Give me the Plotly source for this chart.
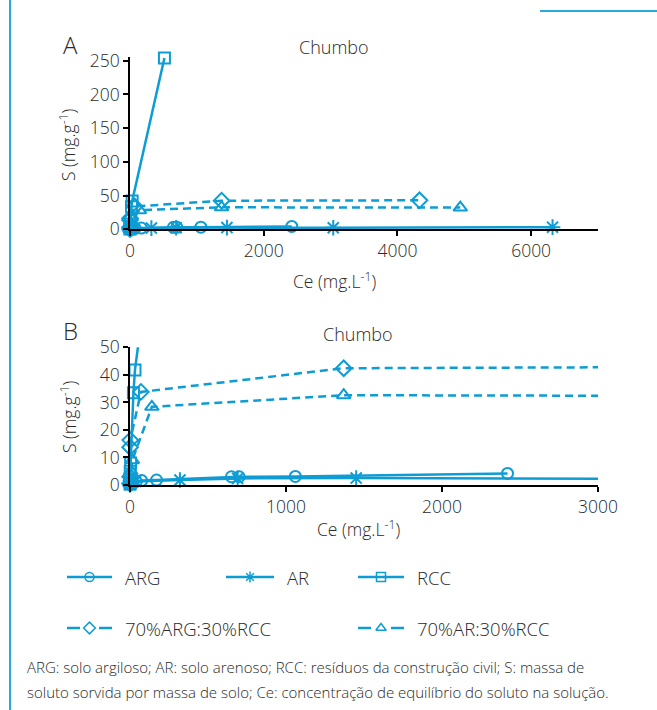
import plotly.graph_objects as go

W, H = 657, 710
COLOR = '#0e9cd4'
FONT = 'Open Sans'
TXT = '#2a2a2a'

# ---- data ----
ARG_ce = [0.5, 3, 15, 40, 75, 170, 650, 700, 1060, 2420]
ARG_s = [0.1, 0.4, 0.9, 1.3, 1.6, 1.8, 3.0, 3.0, 3.1, 4.2]

AR_ce = [0.3, 2, 10, 35, 320, 690, 1450, 3040, 6320]
AR_s = [0.1, 0.4, 0.8, 1.3, 1.8, 2.4, 2.5, 2.3, 3.2]

RCC_ce = [0.2, 0.6, 1.5, 4, 22, 32, 515]
RCC_s = [0.4, 2, 5, 8, 33.5, 41.8, 254]

MIX_ARG_ce = [0.2, 0.8, 0.5, 2, 70, 1370, 4330]
MIX_ARG_s = [0.5, 3, 13.7, 16.3, 33.8, 42.4, 43.0]

MIX_AR_ce = [0.3, 1.5, 5, 15, 140, 1370, 4940]
MIX_AR_s = [0.5, 2.5, 5, 9, 28.4, 32.6, 32.2]

A_xticks = [0, 2000, 4000, 6000]
A_yticks = [0, 50, 100, 150, 200, 250]
B_xticks = [0, 1000, 2000, 3000]
B_yticks = [0, 10, 20, 30, 40, 50]

series = [
    ('ARG', ARG_ce, ARG_s, 'circle-open', 'solid', 11),
    ('AR', AR_ce, AR_s, 'asterisk-open', 'solid', 13),
    ('RCC', RCC_ce, RCC_s, 'square-open', 'solid', 11),
    ('70%ARG:30%RCC', MIX_ARG_ce, MIX_ARG_s, 'diamond-open', '8px,5px', 12),
    ('70%AR:30%RCC', MIX_AR_ce, MIX_AR_s, 'triangle-up-open', '8px,5px', 12),
]

fig = go.Figure()
for xa, ya in (('x', 'y'), ('x2', 'y2')):
    for name, ce, s, sym, dash, msize in series:
        fig.add_trace(go.Scatter(
            x=ce, y=s, mode='lines+markers', name=name, xaxis=xa, yaxis=ya,
            line=dict(color=COLOR, width=2.5, dash=dash),
            marker=dict(symbol=sym, size=msize, color=COLOR, line=dict(color=COLOR, width=2)),
            cliponaxis=False, showlegend=False, hoverinfo='skip'))

# ---- custom legend on an overlay pixel axis ----
leg_rows = [
    ('ARG', 'circle-open', 'solid', 67, 112, 577),
    ('AR', 'asterisk-open', 'solid', 226, 274, 577),
    ('RCC', 'square-open', 'solid', 358, 404, 577),
    ('70%ARG:30%RCC', 'diamond-open', 'dash', 67, 112, 628),
    ('70%AR:30%RCC', 'triangle-up-open', 'dash', 358, 404, 628),
]
annotations = []
for name, sym, style, x0, x1, yy in leg_rows:
    xm = (x0 + x1) / 2
    if style == 'solid':
        lx, ly = [x0, x1], [yy, yy]
    else:
        lx, ly = [x0, x0 + 13, None, x1 - 13, x1], [yy, yy, None, yy, yy]
    fig.add_trace(go.Scatter(x=lx, y=ly, mode='lines', xaxis='x3', yaxis='y3',
                             line=dict(color=COLOR, width=2.5), showlegend=False,
                             hoverinfo='skip', connectgaps=False))
    fig.add_trace(go.Scatter(x=[xm], y=[yy], mode='markers', xaxis='x3', yaxis='y3',
                             marker=dict(symbol=sym, size=9, color=COLOR,
                                         line=dict(color=COLOR, width=1.5)),
                             showlegend=False, hoverinfo='skip'))
    annotations.append(dict(x=x1 + 11, y=yy, xref='x3', yref='y3', text=name,
                            showarrow=False, xanchor='left', yanchor='middle',
                            font=dict(family=FONT, size=18.5, color=TXT, weight=300)))

def px(x):
    return x / W

def py(y):
    return 1 - y / H

axis_common = dict(showline=True, linecolor='black', linewidth=1.5, ticks='outside',
                   ticklen=5, tickwidth=1.5, tickcolor='black', showgrid=False,
                   zeroline=False,
                   tickfont=dict(family=FONT, size=17.5, color=TXT, weight=300))

fig.update_layout(
    width=W, height=H, margin=dict(l=0, r=0, t=0, b=0, autoexpand=False),
    paper_bgcolor='white', plot_bgcolor='rgba(0,0,0,0)',
    xaxis=dict(domain=[px(130), px(598)], range=[0, 7000], tickvals=A_xticks,
               anchor='y', **axis_common),
    yaxis=dict(domain=[py(229.3), py(57.3)], range=[0, 255], tickvals=A_yticks,
               anchor='x', **axis_common),
    xaxis2=dict(domain=[px(130), px(598)], range=[0, 3000], tickvals=B_xticks,
                anchor='y2', **axis_common),
    yaxis2=dict(domain=[py(485), py(347.3)], range=[0, 50], tickvals=B_yticks,
                anchor='x2', **axis_common),
    xaxis3=dict(domain=[0, 1], range=[0, W], visible=False, fixedrange=True, anchor='y3'),
    yaxis3=dict(domain=[0, 1], range=[H, 0], visible=False, fixedrange=True, anchor='x3'),
    showlegend=False,
)

def ann(x, y, text, size=16, xanchor='center', angle=0):
    annotations.append(dict(x=px(x), y=py(y), xref='paper', yref='paper', text=text,
                            showarrow=False, xanchor=xanchor, yanchor='middle',
                            textangle=angle,
                            font=dict(family=FONT, size=size, color=TXT, weight=300)))

ann(70, 44, 'A', size=24)
ann(70, 330, 'B', size=24)
ann(334, 47, 'Chumbo', size=18)
ann(358, 334, 'Chumbo', size=18)
ann(334, 281, 'Ce (mg.L<sup>-1</sup>)', size=17.5)
ann(358, 528, 'Ce (mg.L<sup>-1</sup>)', size=17.5)
ann(68, 145, 'S (mg.g<sup>-1</sup>)', size=17.5, angle=-90)
ann(68, 417, 'S (mg.g<sup>-1</sup>)', size=17.5, angle=-90)
ann(25, 667, 'ARG: solo argiloso; AR: solo arenoso; RCC: resíduos da construção civil; S: massa de',
    size=15, xanchor='left')
ann(25, 692, 'soluto sorvida por massa de solo; Ce: concentração de equilíbrio do soluto na solução.',
    size=15, xanchor='left')

fig.update_layout(annotations=annotations)

# frame lines
fig.update_layout(shapes=[
    dict(type='line', xref='paper', yref='paper', x0=px(10), x1=px(10), y0=0, y1=1,
         line=dict(color='#29a8de', width=2)),
    dict(type='line', xref='paper', yref='paper', x0=px(540), x1=1, y0=py(11), y1=py(11),
         line=dict(color='#29a8de', width=2)),
])

fig.write_html('out.html', config={'displayModeBar': False},
               post_script="document.body.style.margin='0';document.documentElement.style.margin='0';document.body.style.overflow='hidden';")
